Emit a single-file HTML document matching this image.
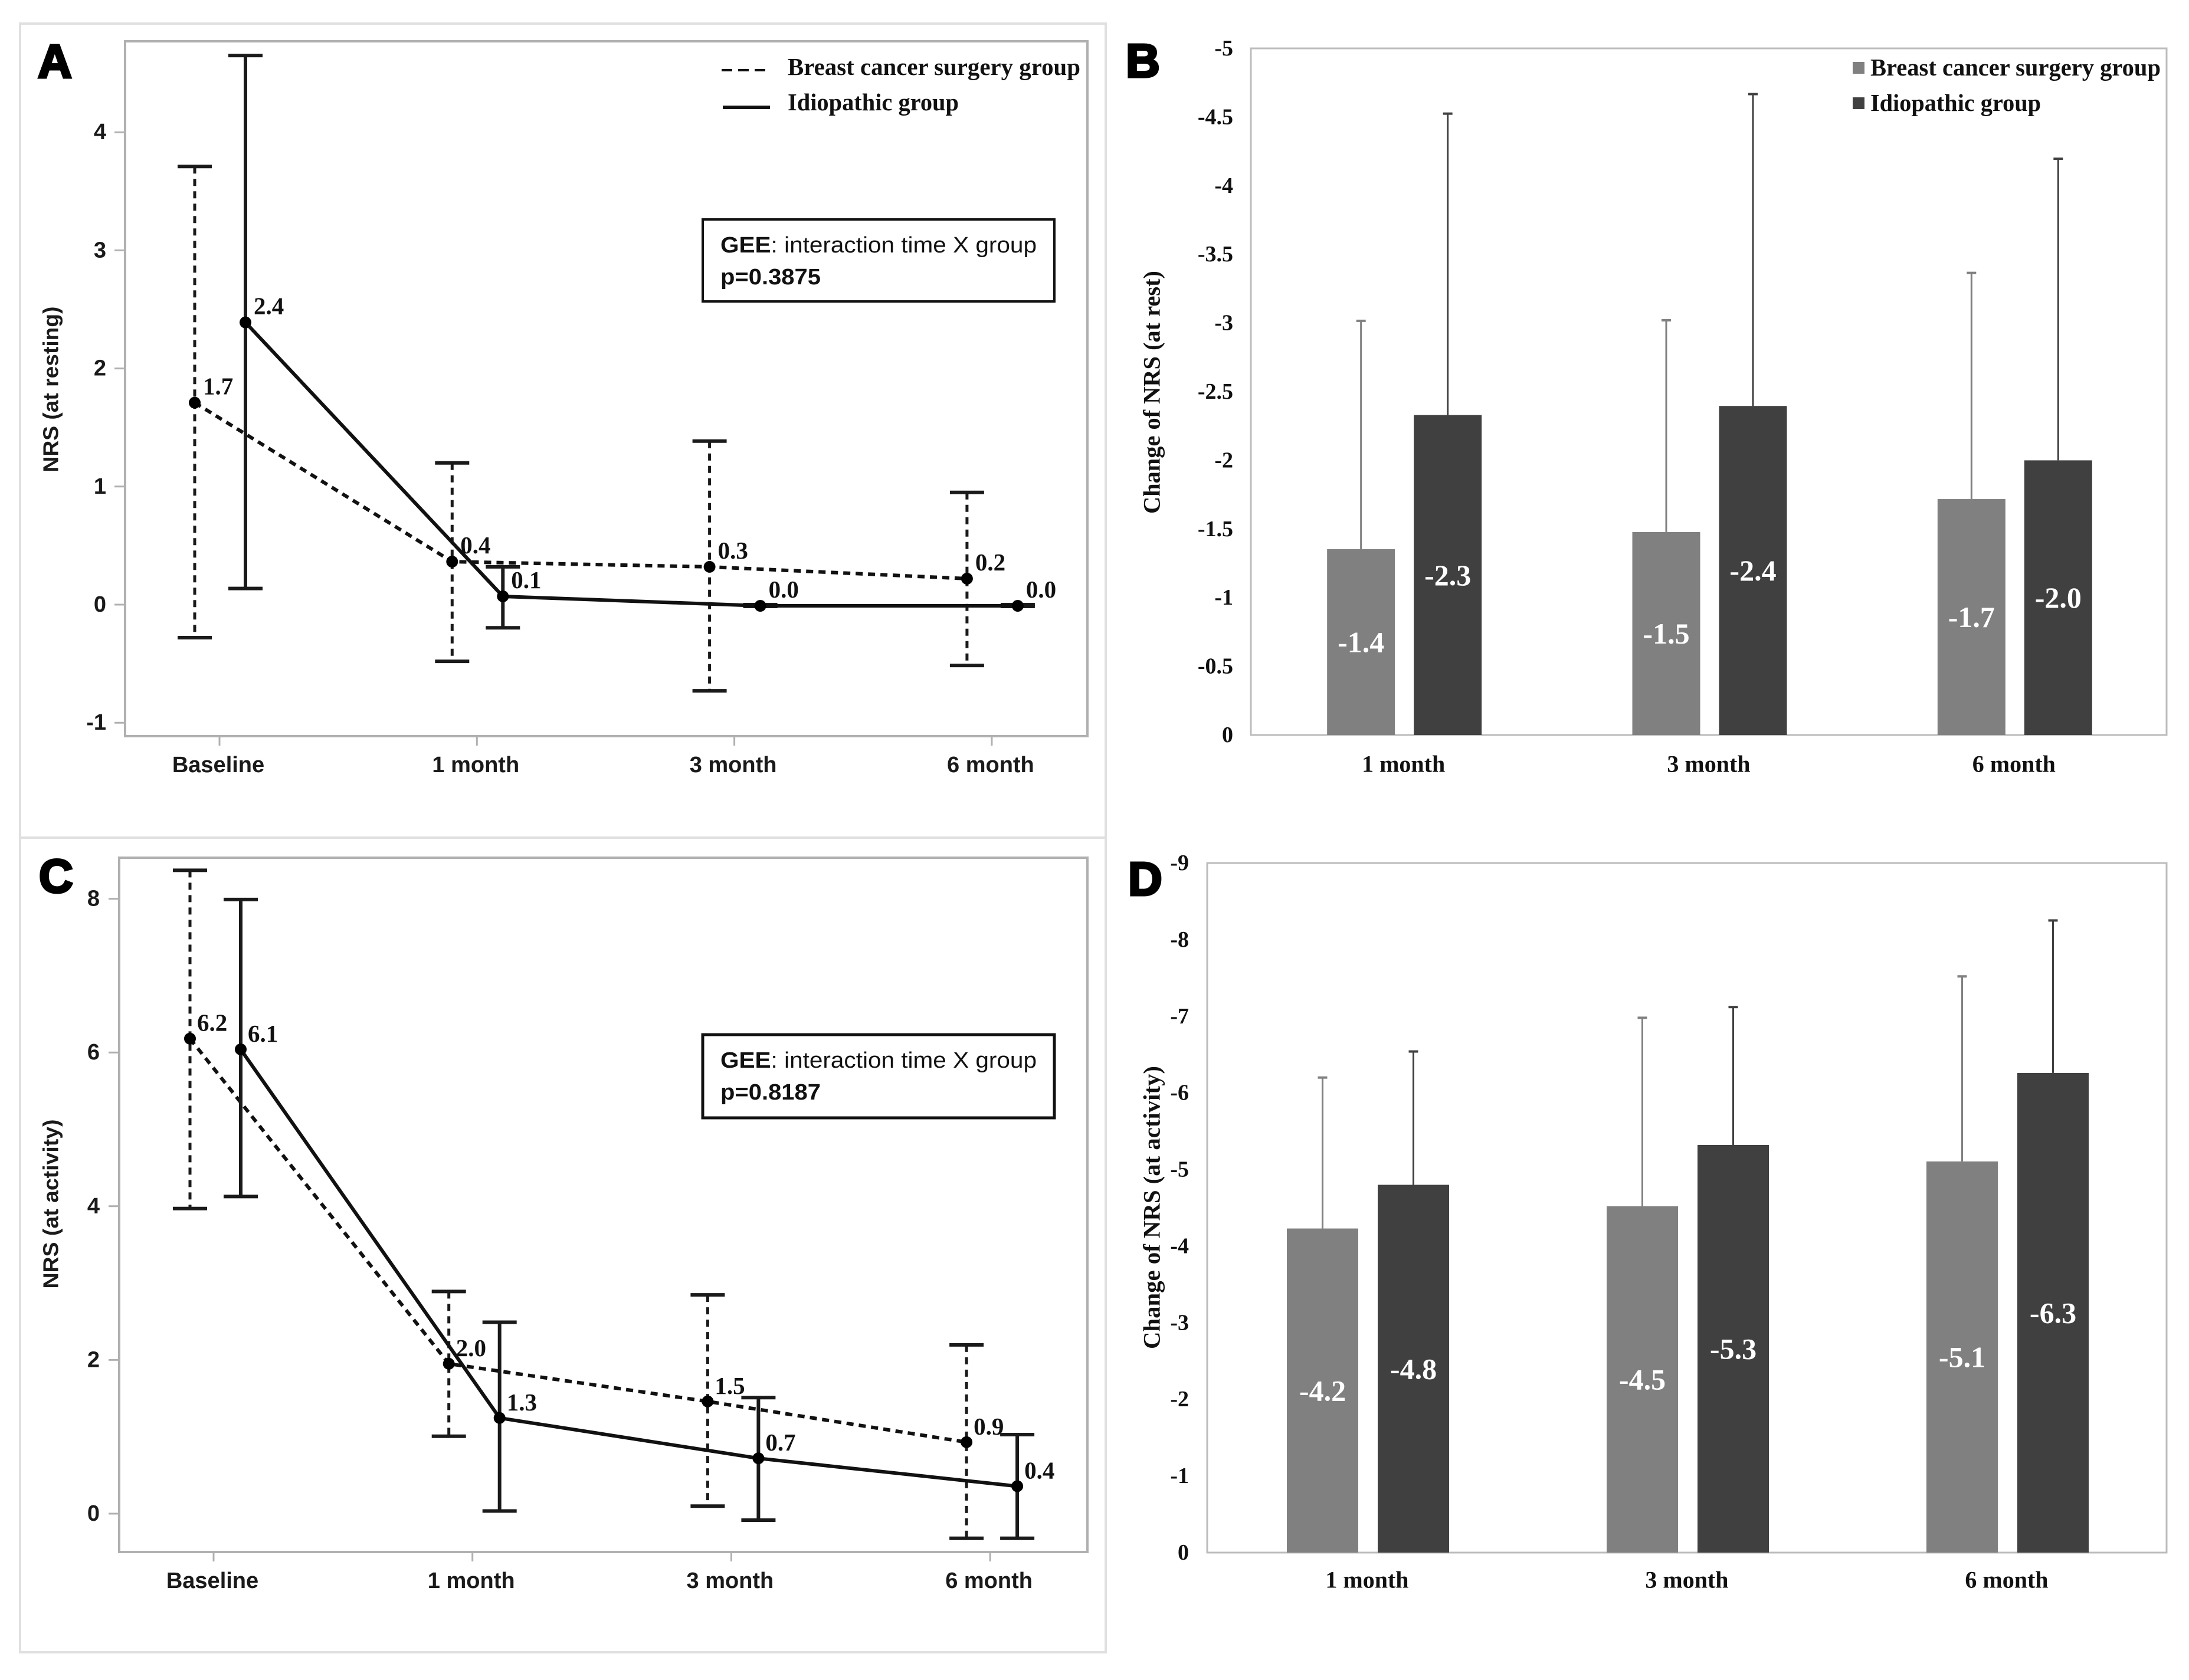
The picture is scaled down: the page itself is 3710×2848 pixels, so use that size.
<!DOCTYPE html>
<html lang="en">
<head>
<meta charset="utf-8">
<title>NRS change by group</title>
<style>
html,body{margin:0;padding:0;background:#fff;width:3710px;height:2848px;overflow:hidden}
svg{display:block}
text{dominant-baseline:central}
.sans{font-family:"Liberation Sans",sans-serif;font-weight:bold;fill:#1a1a1a}
.serif{font-family:"Liberation Serif",serif;font-weight:bold;fill:#111}
.letter{font-family:"Liberation Sans",sans-serif;font-weight:bold;font-size:80px;fill:#000;stroke:#000;stroke-width:4px}
.gee{font-family:"Liberation Sans",sans-serif;font-size:38px;fill:#111}
.atick{font-size:38px}
.dlabel{font-size:41px}
.btick{font-size:38px}
.bcat{font-size:40px}
.bval{font-size:50px;fill:#fff}
.legend{font-size:41px}
</style>
</head>
<body>
<svg id="figure" width="3710" height="2848" viewBox="0 0 3710 2848" xmlns="http://www.w3.org/2000/svg">
  <rect x="0" y="0" width="3710" height="2848" fill="#fff"/>
  <rect x="34" y="40" width="1840" height="1380" fill="none" stroke="#e0e0e0" stroke-width="4"/>
  <rect x="34" y="1420" width="1840" height="1381" fill="none" stroke="#e0e0e0" stroke-width="4"/>

  <rect x="212" y="70" width="1631" height="1178" fill="none" stroke="#b0b0b0" stroke-width="4"/>
  <rect x="2120" y="82" width="1552" height="1164" fill="none" stroke="#bcbcbc" stroke-width="3"/>
  <rect x="202" y="1454" width="1641" height="1177" fill="none" stroke="#b0b0b0" stroke-width="4"/>
  <rect x="2046" y="1463" width="1626" height="1169" fill="none" stroke="#bcbcbc" stroke-width="3"/>

  <text class="letter" x="64" y="104">A</text>
  <text class="letter" x="1908" y="103">B</text>
  <text class="letter" x="66" y="1485">C</text>
  <text class="letter" x="1912" y="1490">D</text>

  <text class="sans" font-size="36" x="86" y="660" text-anchor="middle" transform="rotate(-90 86 660)" textLength="281" lengthAdjust="spacingAndGlyphs">NRS (at resting)</text>
  <text class="sans" font-size="36" x="86" y="2041" text-anchor="middle" transform="rotate(-90 86 2041)" textLength="287" lengthAdjust="spacingAndGlyphs">NRS (at activity)</text>
  <text class="serif" font-size="40" x="1952" y="665" text-anchor="middle" transform="rotate(-90 1952 665)" textLength="412" lengthAdjust="spacingAndGlyphs">Change of NRS (at rest)</text>
  <text class="serif" font-size="40" x="1952" y="2047" text-anchor="middle" transform="rotate(-90 1952 2047)" textLength="480" lengthAdjust="spacingAndGlyphs">Change of NRS (at activity)</text>

  <g>
    <line x1="1223" y1="119" x2="1297" y2="119" stroke="#111" stroke-width="4" stroke-dasharray="18 10"/>
    <text class="serif legend" x="1335" y="113" textLength="496" lengthAdjust="spacingAndGlyphs">Breast cancer surgery group</text>
    <line x1="1225" y1="182" x2="1305" y2="182" stroke="#111" stroke-width="6"/>
    <text class="serif legend" x="1335" y="173" textLength="290" lengthAdjust="spacingAndGlyphs">Idiopathic group</text>
  </g>
  <g>
    <rect x="3140" y="105" width="20" height="20" fill="#808080"/>
    <text class="serif legend" x="3170" y="114" textLength="492" lengthAdjust="spacingAndGlyphs">Breast cancer surgery group</text>
    <rect x="3140" y="165" width="20" height="20" fill="#404040"/>
    <text class="serif legend" x="3170" y="174" textLength="289" lengthAdjust="spacingAndGlyphs">Idiopathic group</text>
  </g>

  <g>
    <rect x="1191" y="372" width="596" height="139" fill="#fff" stroke="#111" stroke-width="4"/>
    <text class="gee" x="1221" y="416" textLength="536" lengthAdjust="spacingAndGlyphs"><tspan font-weight="bold">GEE</tspan>: interaction time X group</text>
    <text class="gee" font-weight="bold" x="1221" y="470" textLength="170" lengthAdjust="spacingAndGlyphs">p=0.3875</text>
  </g>
  <g>
    <rect x="1191" y="1754" width="596" height="141" fill="#fff" stroke="#111" stroke-width="5"/>
    <text class="gee" x="1221" y="1798" textLength="536" lengthAdjust="spacingAndGlyphs"><tspan font-weight="bold">GEE</tspan>: interaction time X group</text>
    <text class="gee" font-weight="bold" x="1221" y="1852" textLength="170" lengthAdjust="spacingAndGlyphs">p=0.8187</text>
  </g>

  <g id="marks"></g>
</svg>

<script>
// ---------- Shared categories ----------
var lineCategories = ['Baseline', '1 month', '3 month', '6 month'];
var barCategories = ['1 month', '3 month', '6 month'];

// ---------- Panel A data ----------
var aTicks = ['4', '3', '2', '1', '0', '-1'];
var aBreastMean = [1.71, 0.364, 0.32, 0.22];
var aBreastHigh = [3.71, 1.2, 1.385, 0.95];
var aBreastLow = [-0.28, -0.48, -0.73, -0.515];
var aBreastLabels = ['1.7', '0.4', '0.3', '0.2'];
var aIdioMean = [2.39, 0.07, -0.01, -0.01];
var aIdioHigh = [4.65, 0.32, 0, 0];
var aIdioLow = [0.137, -0.196, -0.015, -0.015];
var aIdioLabels = ['2.4', '0.1', '0.0', '0.0'];

// ---------- Panel C data ----------
var cTicks = ['8', '6', '4', '2', '0'];
var cBreastMean = [6.18, 1.95, 1.46, 0.93];
var cBreastHigh = [8.37, 2.89, 2.846, 2.196];
var cBreastLow = [3.97, 1.007, 0.098, -0.32];
var cBreastLabels = ['6.2', '2.0', '1.5', '0.9'];
var cIdioMean = [6.04, 1.245, 0.72, 0.357];
var cIdioHigh = [7.99, 2.49, 1.51, 1.028];
var cIdioLow = [4.126, 0.035, -0.084, -0.32];
var cIdioLabels = ['6.1', '1.3', '0.7', '0.4'];

// ---------- Panel B data ----------
var bTicks = ['-5', '-4.5', '-4', '-3.5', '-3', '-2.5', '-2', '-1.5', '-1', '-0.5', '0'];
var bBreastValues = [-1.353, -1.478, -1.718];
var bBreastErrTop = [-3.016, -3.02, -3.365];
var bBreastLabels = ['-1.4', '-1.5', '-1.7'];
var bIdioValues = [-2.33, -2.396, -2.0];
var bIdioErrTop = [-4.525, -4.667, -4.196];
var bIdioLabels = ['-2.3', '-2.4', '-2.0'];

// ---------- Panel D data ----------
var dTicks = ['-9', '-8', '-7', '-6', '-5', '-4', '-3', '-2', '-1', '0'];
var dBreastValues = [-4.23, -4.52, -5.105];
var dBreastErrTop = [-6.2, -6.98, -7.52];
var dBreastLabels = ['-4.2', '-4.5', '-5.1'];
var dIdioValues = [-4.8, -5.32, -6.26];
var dIdioErrTop = [-6.54, -7.12, -8.25];
var dIdioLabels = ['-4.8', '-5.3', '-6.3'];

var NS = 'http://www.w3.org/2000/svg';
var root = document.getElementById('marks');

function make(parent, tag) {
  var el = document.createElementNS(NS, tag);
  parent.appendChild(el);
  return el;
}
function setAll(el, props) {
  for (var k in props) { el.setAttribute(k, props[k]); }
  return el;
}
function linearScale(domainA, rangeA, domainB, rangeB) {
  return function (v) { return rangeA + (v - domainA) * (rangeB - rangeA) / (domainB - domainA); };
}
function drawLine(parent, x1, y1, x2, y2, stroke, width, dash) {
  var el = setAll(make(parent, 'line'), { x1: x1, y1: y1, x2: x2, y2: y2, stroke: stroke, 'stroke-width': width });
  if (dash) { el.setAttribute('stroke-dasharray', dash); }
  return el;
}
function drawText(parent, x, y, str, cls, anchor) {
  var el = setAll(make(parent, 'text'), { x: x, y: y, 'class': cls, 'text-anchor': anchor || 'start' });
  el.textContent = str;
  return el;
}

function drawSeries(parent, name, xOf, yOf, mean, high, low, labels, dash, dx, dy) {
  var group = make(parent, 'g');
  
  

  var pts = mean.map(function (v, i) { return xOf(i) + ',' + yOf(v); }).join(' ');
  mean.forEach(function (v, i) {
    var x = xOf(i);
    var bar = drawLine(group, x, yOf(high[i]), x, yOf(low[i]), '#1a1a1a', dash ? 5 : 6, dash);
    
    
    var capTop = drawLine(group, x - 29, yOf(high[i]), x + 29, yOf(high[i]), '#1a1a1a', 6);
    
    
    var capLow = drawLine(group, x - 29, yOf(low[i]), x + 29, yOf(low[i]), '#1a1a1a', 6);
    
    
  });

  var path = setAll(make(group, 'polyline'), { points: pts, fill: 'none', stroke: '#111', 'stroke-width': 6 });
  if (dash) { path.setAttribute('stroke-dasharray', dash); }
  
  

  mean.forEach(function (v, i) {
    var dot = setAll(make(group, 'circle'), { cx: xOf(i), cy: yOf(v), r: 10, fill: '#000' });
    
    
    var lab = drawText(group, xOf(i) + dx, yOf(v) + dy, labels[i], 'serif dlabel');
    
    
  });
}

function drawLinePanel(name, geo, ticks, breast, idio) {
  var g = make(root, 'g');
  
  

  var yOf = linearScale(0, geo.zeroY, 1, geo.zeroY - geo.unit);
  var xOf = linearScale(0, geo.firstX, 1, geo.firstX + geo.stepX);

  ticks.forEach(function (t) {
    var y = yOf(Number(t));
    var mark = drawLine(g, geo.left - 18, y, geo.left, y, '#b0b0b0', 3);
    
    
    var lab = drawText(g, geo.tickRight, y, t, 'sans atick', 'end');
    
    
  });
  lineCategories.forEach(function (c, i) {
    var x = xOf(i);
    var mark = drawLine(g, x, geo.bottom, x, geo.bottom + 16, '#b0b0b0', 3);
    
    
    var lab = drawText(g, x - 2, geo.catY, c, 'sans atick', 'middle');
    
    
  });

  drawSeries(g, 'breast-cancer', function (i) { return xOf(i) + geo.breastOffset; }, yOf,
    breast.mean, breast.high, breast.low, breast.labels, '12 9', geo.dx, geo.dy);
  drawSeries(g, 'idiopathic', function (i) { return xOf(i) + geo.idioOffset; }, yOf,
    idio.mean, idio.high, idio.low, idio.labels, null, geo.dx, geo.dy);
}

function drawBarSeries(parent, name, fill, xOf, yOf, zero, width, values, errTop, labels) {
  values.forEach(function (v, i) {
    var x = xOf(i);
    var err = drawLine(parent, x, yOf(errTop[i]), x, yOf(v), fill, 3);
    
    
    var cap = drawLine(parent, x - 8, yOf(errTop[i]), x + 8, yOf(errTop[i]), fill, 4);
    
    
    var bar = setAll(make(parent, 'rect'), { x: x - width / 2, y: yOf(v), width: width, height: yOf(0) - yOf(v), fill: fill });
    
    
    var lab = drawText(parent, x, (yOf(v) + yOf(0)) / 2, labels[i], 'serif bval', 'middle');
    
    
  });
}

function drawBarPanel(name, geo, ticks, breast, idio) {
  var g = make(root, 'g');
  
  

  var yOf = linearScale(0, geo.bottom, Number(ticks[0]), geo.top);
  var step = (geo.right - geo.left) / barCategories.length;
  var centerOf = function (i) { return geo.left + step * (i + 0.5); };

  ticks.forEach(function (t) {
    var lab = drawText(g, geo.tickRight, yOf(Number(t)), t, 'serif btick', 'end');
    
    
  });
  barCategories.forEach(function (c, i) {
    var lab = drawText(g, centerOf(i), geo.catY, c, 'serif bcat', 'middle');
    
    
  });

  drawBarSeries(g, 'breast-cancer', '#808080', function (i) { return centerOf(i) + geo.shift - geo.offset; }, yOf, geo.bottom, geo.barW,
    breast.values, breast.err, breast.labels);
  drawBarSeries(g, 'idiopathic', '#404040', function (i) { return centerOf(i) + geo.shift + geo.offset; }, yOf, geo.bottom, geo.barW,
    idio.values, idio.err, idio.labels);
}

drawLinePanel('panel-a-line-chart',
  { left: 212, bottom: 1248, zeroY: 1025, unit: 200.2, firstX: 372, stepX: 436.3, breastOffset: -42, idioOffset: 44, tickRight: 180, catY: 1297, dx: 14, dy: -28 },
  aTicks,
  { mean: aBreastMean, high: aBreastHigh, low: aBreastLow, labels: aBreastLabels },
  { mean: aIdioMean, high: aIdioHigh, low: aIdioLow, labels: aIdioLabels });

drawLinePanel('panel-c-line-chart',
  { left: 202, bottom: 2631, zeroY: 2566, unit: 130.3, firstX: 362, stepX: 438.7, breastOffset: -40, idioOffset: 46, tickRight: 169, catY: 2680, dx: 12, dy: -27 },
  cTicks,
  { mean: cBreastMean, high: cBreastHigh, low: cBreastLow, labels: cBreastLabels },
  { mean: cIdioMean, high: cIdioHigh, low: cIdioLow, labels: cIdioLabels });

drawBarPanel('panel-b-bar-chart',
  { left: 2120, right: 3672, top: 82, bottom: 1246, offset: 73.5, shift: 1.5, barW: 115, tickRight: 2090, catY: 1295 },
  bTicks,
  { values: bBreastValues, err: bBreastErrTop, labels: bBreastLabels },
  { values: bIdioValues, err: bIdioErrTop, labels: bIdioLabels });

drawBarPanel('panel-d-bar-chart',
  { left: 2046, right: 3672, top: 1463, bottom: 2632, offset: 77, shift: 1.5, barW: 121, tickRight: 2015, catY: 2678 },
  dTicks,
  { values: dBreastValues, err: dBreastErrTop, labels: dBreastLabels },
  { values: dIdioValues, err: dIdioErrTop, labels: dIdioLabels });
</script>
</body>
</html>
